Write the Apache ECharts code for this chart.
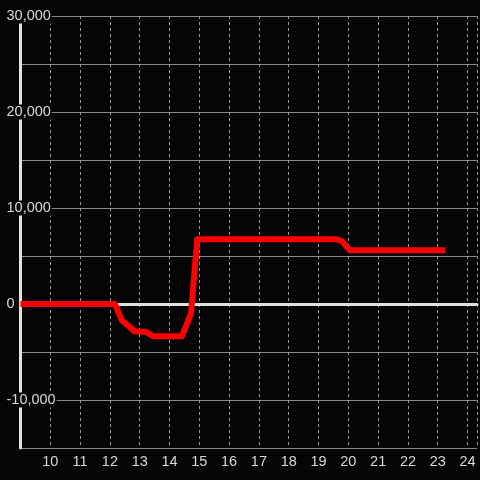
<!DOCTYPE html>
<html><head><meta charset="utf-8">
<script src="https://cdn.jsdelivr.net/npm/echarts@6/dist/echarts.min.js"></script>
<style>html,body{margin:0;padding:0;background:#050508;}#c{width:480px;height:480px;}</style>
</head><body><div id="c"></div>
<script>
const xValues = [9, 12.17, 12.4, 12.83, 13.2, 13.45, 14.42, 14.72, 14.93, 19.6, 19.78, 20.05, 23.25];
const yValues = [0, 0, -1700, -2850, -2900, -3350, -3350, -1000, 6750, 6750, 6550, 5600, 5600];
const xTicks = [10, 11, 12, 13, 14, 15, 16, 17, 18, 19, 20, 21, 22, 23, 24];
const yTicks = [-10000, 0, 10000, 20000, 30000];

const data = xValues.map((x, i) => [x, yValues[i]]);
const chart = echarts.init(document.getElementById('c'), null, {renderer: 'canvas'});
const font = 'Arial, "Liberation Sans", sans-serif';
chart.setOption({
  backgroundColor: '#050508',
  animation: false,
  grid: {left: 20.5, right: 0, top: 16, bottom: 32, containLabel: false},
  xAxis: [{
    type: 'value', min: 9, max: 24.317, interval: 1,
    axisLine: {show: false, onZero: false},
    axisTick: {show: false},
    axisLabel: {color: '#d8d8d8', fontSize: 14.5, fontFamily: font, margin: 6,
      formatter: v => xTicks.indexOf(v) >= 0 ? String(v) : ''},
    splitLine: {show: true, lineStyle: {color: '#9a9a9a', width: 1, type: [3, 3]}}
  }, {
    type: 'value', min: 9, max: 24.317, interval: 1,
    axisLine: {show: true, onZero: true, lineStyle: {color: '#e0e0e0', width: 3}},
    axisTick: {show: false}, axisLabel: {show: false}, splitLine: {show: false}
  }],
  yAxis: {
    type: 'value', min: -15000, max: 30000, interval: 5000,
    axisLine: {show: true, onZero: true, lineStyle: {color: '#e0e0e0', width: 3}},
    axisTick: {show: false},
    axisLabel: {color: '#d8d8d8', fontSize: 14.5, fontFamily: font, margin: 14, align: 'left',
      backgroundColor: '#050508', padding: [0, 1, 0, 0],
      formatter: v => yTicks.indexOf(v) >= 0 ? v.toLocaleString('en-US') : ''},
    splitLine: {show: true, lineStyle: {color: '#8a8a8a', width: 1}}
  },
  series: [{
    type: 'line', xAxisIndex: 0, data: data, showSymbol: false, symbol: 'none',
    lineStyle: {color: '#ff0000', width: 6, join: 'round'},
    z: 5
  }]
});
</script></body></html>
